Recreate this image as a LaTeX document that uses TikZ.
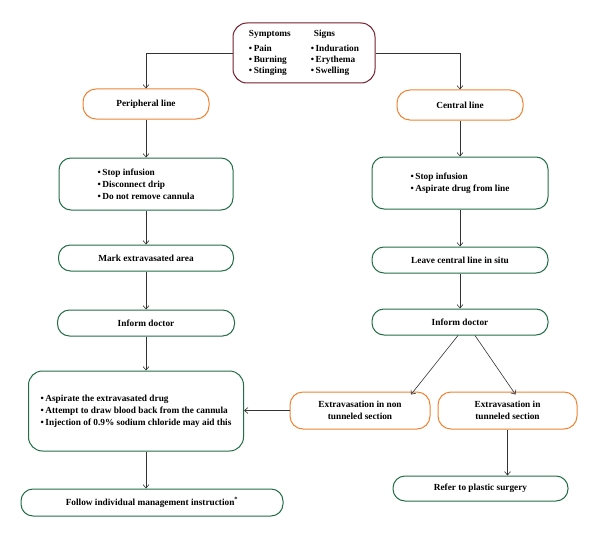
\documentclass[tikz,border=0pt]{standalone}
\usepackage{fontspec}
\setmainfont{Liberation Serif}
\usetikzlibrary{arrows.meta, positioning}

\definecolor{boxorange}{RGB}{240,130,50}
\definecolor{boxgreen}{RGB}{35,110,70}
\definecolor{boxred}{RGB}{115,30,45}

\begin{document}
\begin{tikzpicture}[
        x=1pt, y=-1pt,
        node distance=36pt,
        every node/.style={font=\fontsize{9.3}{12}\selectfont\bfseries, inner sep=3pt},
        linebox/.style={rectangle, draw=boxorange, line width=1pt, rounded corners=13pt, minimum height=30pt, align=center},
        stepbox/.style={rectangle, draw=boxgreen, line width=1pt, rounded corners=12pt, minimum height=26pt, align=left},
        arr/.style={-{Straight Barb[length=3.5pt, width=6pt]}, draw=black!80, line width=0.6pt}
    ]
        \useasboundingbox (0,0) rectangle (600,535);

        \node[rectangle, draw=boxred, line width=1pt, rounded corners=14pt, minimum width=142pt, minimum height=60pt,
              font=\fontsize{9.3}{11}\selectfont\bfseries] (signs) at (304,53)
            {\begin{tabular}{@{}l@{\hspace{20pt}}l@{}}
             Symptoms & \,\,Signs\\[4pt]
             \textbullet\,Pain & \textbullet\,Induration\\
             \textbullet\,Burning & \textbullet\,Erythema\\
             \textbullet\,Stinging & \textbullet\,Swelling
             \end{tabular}};

        % peripheral side
        \node[linebox, minimum width=126pt] (periph) at (146,104) {Peripheral line};
        \node[stepbox, minimum width=174pt, minimum height=52pt, below=38pt of periph] (pstop)
            {\textbullet\,Stop infusion\\\textbullet\,Disconnect drip\\\textbullet\,Do not remove cannula};
        \node[stepbox, minimum width=175pt, below=34pt of pstop] (pmark) {Mark extravasated area};
        \node[stepbox, minimum width=177pt, below=38pt of pmark] (pinform) {Inform doctor};
        \node[stepbox, minimum width=215pt, minimum height=80pt, below=34pt of pinform, xshift=-10pt, rounded corners=14pt] (aspir)
            {\textbullet\,Aspirate the extravasated drug\\\textbullet\,Attempt to draw blood back from the cannula\\\textbullet\,Injection of 0.9\% sodium chloride may aid this};
        \node[stepbox, minimum width=262pt, minimum height=27pt, below=37pt of aspir, xshift=16pt] (follow)
            {Follow individual management instruction\textsuperscript{*}};

        % central side
        \node[linebox, minimum width=126pt] (central) at (460,105) {Central line};
        \node[stepbox, minimum width=176pt, minimum height=52pt, below=36pt of central] (cstop)
            {\textbullet\,Stop infusion\\\textbullet\,Aspirate drug from line};
        \node[stepbox, minimum width=176pt, below=37pt of cstop] (cleave) {Leave central line in situ};
        \node[stepbox, minimum width=176pt, below=35pt of cleave] (cinform) {Inform doctor};
        \node[linebox, minimum width=140pt, minimum height=37pt, below=56pt of cinform, xshift=-100pt] (nontun)
            {Extravasation in non\\tunneled section};
        \node[linebox, minimum width=139pt, minimum height=37pt, right=7pt of nontun] (tun)
            {Extravasation in\\tunneled section};
        \node[stepbox, minimum width=175pt, minimum height=25pt, below=46pt of tun, xshift=-27pt] (refer) {Refer to plastic surgery};

        \draw[arr] (signs.west) -| (periph.north);
        \draw[arr] (signs.east) -| (central.north);
        \draw[arr] (periph) -- (pstop);
        \draw[arr] (pstop) -- (pmark);
        \draw[arr] (pmark) -- (pinform);
        \draw[arr] (pinform.south) -- (pinform.south |- aspir.north);
        \draw[arr] (pinform.south |- aspir.south) -- (pinform.south |- follow.north);
        \draw[arr] (central) -- (cstop);
        \draw[arr] (cstop) -- (cleave);
        \draw[arr] (cleave) -- (cinform);
        \draw[arr] ([xshift=-2pt]cinform.south) -- ([xshift=51pt, yshift=-3pt]nontun.north);
        \draw[arr] ([xshift=15pt]cinform.south) -- ([xshift=8pt, yshift=-3pt]tun.north);
        \draw[arr] (nontun.west) -- (nontun.west -| aspir.east);
        \draw[arr] (tun.south) -- (tun.south |- refer.north);
    \end{tikzpicture}
\end{document}
